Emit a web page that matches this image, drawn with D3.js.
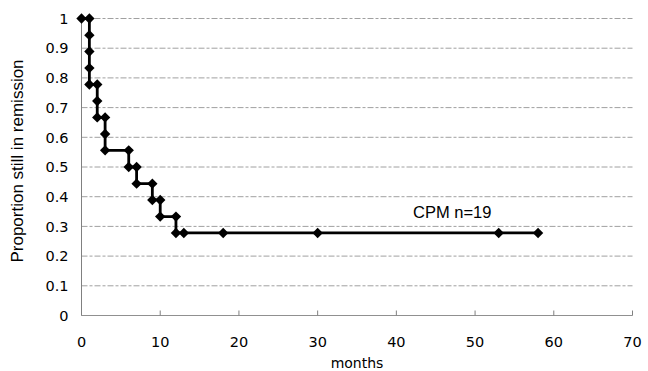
<!DOCTYPE html>
<html>
<head>
<meta charset="utf-8">
<script src="https://cdn.jsdelivr.net/npm/d3@7"></script>
<style>
  body { margin: 0; background: #fff; }
  .tick-label { font-family: "DejaVu Sans", Verdana, sans-serif; font-size: 14.5px; fill: #000; }
</style>
</head>
<body>
<div id="chart"></div>
<script>
// Kaplan-Meier step points (each step drawn as two points)
const months = [0, 1, 1, 1, 1, 1, 2, 2, 2, 3, 3, 3, 6, 6, 7, 7, 9, 9, 10, 10, 12, 12, 13, 18, 30, 53, 58];
const proportion = [1, 1, 0.944, 0.889, 0.833, 0.778, 0.778, 0.722, 0.667, 0.667, 0.611, 0.556,
  0.556, 0.5, 0.5, 0.444, 0.444, 0.389, 0.389, 0.333, 0.333, 0.278, 0.278, 0.278, 0.278, 0.278, 0.278];
const xTicks = [0, 10, 20, 30, 40, 50, 60, 70];
const yTicks = [0, 0.1, 0.2, 0.3, 0.4, 0.5, 0.6, 0.7, 0.8, 0.9, 1];

const width = 648, height = 371,
    margin = ({ top: 18.5, right: 15.5, bottom: 55.5, left: 81.5 });

const data = months.map((m, i) => ({ m: m, p: proportion[i] }));

const svg = d3.select("#chart")
    .append("svg")
    .attr("width", width)
    .attr("height", height);

let x = d3.scaleLinear()
    .domain([0, 70])
    .range([margin.left, width - margin.right]);

let y = d3.scaleLinear()
    .domain([0, 1])
    .range([height - margin.bottom, margin.top]);

// dashed gridlines
svg.append("g")
  .selectAll("line")
  .data(yTicks.filter(d => d > 0))
  .join("line")
    .attr("x1", x(0))
    .attr("x2", x(70))
    .attr("y1", d => y(d))
    .attr("y2", d => y(d))
    .attr("stroke", "#a0a0a0")
    .attr("stroke-width", 1)
    .attr("stroke-dasharray", "6,2,3,2");

// y axis line + labels
svg.append("line")
    .attr("x1", x(0)).attr("x2", x(0))
    .attr("y1", y(1)).attr("y2", y(0))
    .attr("stroke", "#808080");

svg.append("g")
  .selectAll("text")
  .data(yTicks)
  .join("text")
    .attr("class", "tick-label")
    .attr("text-anchor", "end")
    .attr("x", x(0) - 13)
    .attr("y", d => y(d))
    .attr("dy", "0.36em")
    .text(d => d);

// x axis line, inner ticks, labels
svg.append("line")
    .attr("x1", x(0)).attr("x2", x(70))
    .attr("y1", y(0)).attr("y2", y(0))
    .attr("stroke", "#909090");

svg.append("g")
  .selectAll("line")
  .data(xTicks)
  .join("line")
    .attr("x1", d => x(d)).attr("x2", d => x(d))
    .attr("y1", y(0)).attr("y2", y(0) - 5)
    .attr("stroke", "#808080");

svg.append("g")
  .selectAll("text")
  .data(xTicks)
  .join("text")
    .attr("class", "tick-label")
    .attr("text-anchor", "middle")
    .attr("x", d => x(d))
    .attr("y", 347)
    .text(d => d);

svg.append("text")
    .attr("class", "tick-label")
    .attr("text-anchor", "middle")
    .attr("x", 357)
    .attr("y", 368)
    .style("font-size", "14px")
    .text("months");

svg.append("text")
    .attr("text-anchor", "middle")
    .attr("transform", "translate(23,161) rotate(-90)")
    .style("font-family", "Liberation Sans, Arial, sans-serif")
    .style("font-size", "17px")
    .text("Proportion still in remission");

// survival line
let line = d3.line()
    .x(d => x(d.m))
    .y(d => y(d.p));

svg.append("path")
    .datum(data)
    .attr("d", line)
    .attr("fill", "none")
    .attr("stroke", "#000")
    .attr("stroke-width", 2.8);

svg.append("g")
  .selectAll("path")
  .data(data)
  .join("path")
    .attr("d", d3.symbol(d3.symbolSquare, 54))
    .attr("transform", d => `translate(${x(d.m)},${y(d.p)}) rotate(45)`)
    .attr("fill", "#000");

svg.append("text")
    .attr("x", 413)
    .attr("y", 218)
    .style("font-family", "Liberation Sans, Arial, sans-serif")
    .style("font-size", "16.5px")
    .text("CPM n=19");
</script>
</body>
</html>
